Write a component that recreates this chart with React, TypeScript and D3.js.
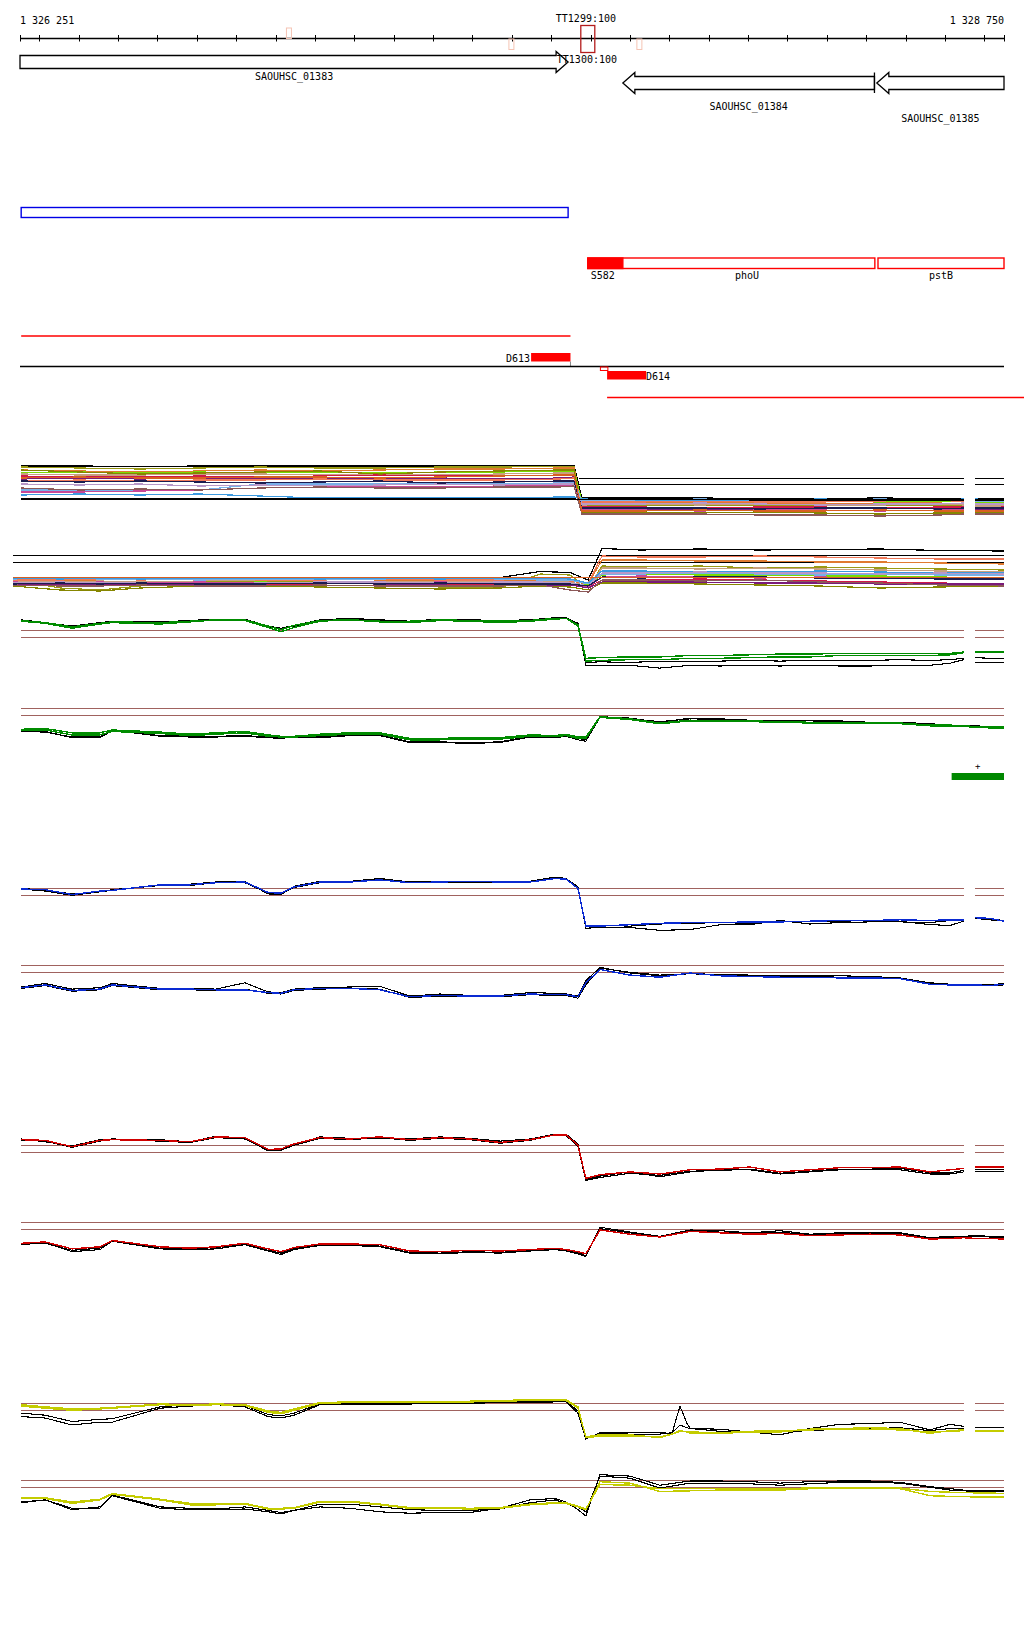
import React from 'react';
import * as d3 from 'd3';

// ---------- genomic window ----------
const START = 1326251;
const END = 1328750;
const GAP: [number, number] = [1328648, 1328676];
const LEFT_LABEL = '1 326 251';
const RIGHT_LABEL = '1 328 750';

// ---------- annotation data ----------
const GENE_NAMES = ['SAOUHSC_01383', 'SAOUHSC_01384', 'SAOUHSC_01385'];
const GENE_FROM = [1326251, 1327782, 1328427];
const GENE_TO = [1327643, 1328421, 1328750];
const GENE_STRAND = [1, -1, -1];

const TERM_MAIN_NAMES = ['TT1299:100', 'TT1300:100'];
const TERM_MAIN_POS = 1327693;
const TERM_MINOR_POS = [1326934, 1327499, 1327824];
const TERM_MINOR_STRAND = [1, -1, -1];

const BLUE_BOX = [1326254, 1327643];
const RNA_NAMES = ['S582', 'phoU', 'pstB'];
const RNA_FROM = [1327693, 1327693, 1328430];
const RNA_TO = [1327782, 1328422, 1328750];
const RNA_FILLED = [true, false, false];

const UPPER_RED_LINE = [1326254, 1327649];
const D613 = [1327549, 1327649];
const D614 = [1327742, 1327841];
const SMALL_SQUARE = [1327725, 1327744];
const LOWER_RED_LINE = [1327742, 1328801];
const GREEN_BLOCK = [1328617, 1328750];

// ---------- multi-condition panels (A: + strand, B: - strand) ----------
const PA = [1326254, 1326403, 1326556, 1326708, 1326861, 1327013, 1327165, 1327318, 1327470, 1327622, 1327658, 1327678, 1327826, 1327978, 1328130, 1328283, 1328435, 1328587, 1328648, 1328676, 1328750];
const PB = [1326233, 1326353, 1326454, 1326556, 1326708, 1326861, 1327013, 1327165, 1327318, 1327470, 1327572, 1327648, 1327694, 1327729, 1327826, 1327978, 1328130, 1328283, 1328435, 1328587, 1328750];
const MULTI_COLORS = ['#000000', '#9a9a14', '#e07a30', '#78dc00', '#c8a080', '#d01848', '#7a1a7a', '#f07858', '#868600', '#78b0e8', '#3c9ae0', '#c84898', '#b898c8', '#8c5858', '#1c1c50', '#d86020', '#000000'];
const A_LINES = [
  [14, 14, 13.9, 14, 14, 14, 14, 14, 14, 14.1, 14.1, 7.6, 7.6, 7.6, 7.5, 7.5, 7.6, 7.5, 7.5, 7.4, 7.4],
  [13.8, 13.6, 13.4, 13.6, 13.8, 13.6, 13.6, 13.8, 13.8, 13.9, 13.8, 6.2, 6.0, 6.2, 6.0, 6.0, 6.2, 6.0, 6.0, 6.2, 6.2],
  [13.2, 13.0, 12.8, 13.0, 13.2, 13.0, 13.2, 13.4, 13.4, 13.6, 13.6, 6.6, 6.6, 6.8, 6.6, 6.4, 6.6, 6.6, 6.4, 6.6, 6.6],
  [12.6, 12.8, 12.6, 12.8, 12.6, 12.8, 12.6, 12.8, 12.8, 13.0, 13.0, 7.0, 7.0, 7.0, 7.2, 7.0, 6.8, 7.0, 7.0, 6.8, 6.8],
  [12.4, 12.2, 12.2, 12.4, 12.4, 12.2, 12.4, 12.2, 12.4, 12.6, 12.6, 6.2, 6.4, 6.2, 6.4, 6.2, 6.2, 6.4, 6.2, 6.0, 6.0],
  [12.0, 11.8, 11.8, 12.0, 11.8, 12.0, 12.2, 12.0, 12.0, 12.2, 12.2, 5.8, 5.8, 5.6, 5.8, 5.8, 5.6, 5.8, 5.8, 5.6, 5.8],
  [11.4, 11.6, 11.4, 11.6, 11.6, 11.4, 11.6, 11.6, 11.4, 11.6, 11.8, 5.4, 5.4, 5.2, 5.4, 5.4, 5.6, 5.4, 5.4, 5.2, 5.2],
  [11.0, 11.2, 11.0, 11.2, 11.2, 11.4, 11.2, 11.2, 11.2, 11.4, 11.6, 6.8, 6.8, 7.0, 6.8, 6.8, 7.0, 7.2, 6.8, 7.0, 7.0],
  [13.2, 12.8, 12.4, 12.6, 12.8, 13.0, 12.4, 12.8, 13.0, 13.2, 13.2, 4.8, 4.8, 4.6, 4.8, 4.6, 4.4, 4.6, 4.6, 4.6, 4.6],
  [9.2, 9.2, 9.0, 9.2, 10.4, 10.4, 10.4, 10.6, 10.4, 10.6, 10.6, 7.2, 7.2, 7.4, 7.2, 7.2, 7.4, 7.2, 7.2, 7.0, 7.0],
  [8.2, 8.4, 8.2, 8.4, 8.0, 7.6, 7.6, 7.6, 7.6, 7.8, 7.8, 7.4, 7.2, 7.2, 7.2, 7.4, 7.2, 7.2, 7.4, 7.4, 7.2],
  [8.8, 8.8, 9.0, 9.2, 9.6, 9.8, 9.8, 9.8, 10.0, 10.0, 10.2, 5.2, 5.2, 5.0, 5.2, 5.2, 5.0, 5.2, 5.2, 5.0, 5.0],
  [10.4, 10.2, 10.4, 10.0, 10.2, 10.0, 10.2, 10.4, 10.2, 10.4, 10.4, 6.4, 6.4, 6.6, 6.4, 6.2, 6.4, 6.4, 6.6, 6.4, 6.4],
  [9.6, 9.2, 9.4, 9.2, 9.6, 9.8, 9.6, 9.6, 9.8, 9.8, 10.0, 4.4, 4.4, 4.4, 4.2, 4.2, 4.0, 4.2, 4.4, 4.4, 4.4],
  [11.0, 10.8, 11.0, 10.8, 10.6, 10.8, 11.0, 10.6, 10.8, 11.0, 11.0, 5.6, 5.6, 5.6, 5.4, 5.6, 5.6, 5.4, 5.6, 5.6, 5.6],
  [11.6, 11.8, 11.6, 11.6, 11.8, 11.8, 11.6, 11.8, 12.0, 12.2, 12.2, 5.0, 5.0, 5.2, 5.0, 5.0, 5.2, 5.0, 5.0, 5.0, 5.0],
  [7.4, 7.4, 7.4, 7.4, 7.4, 7.4, 7.4, 7.4, 7.4, 7.4, 7.4, 7.3, 7.3, 7.3, 7.2, 7.2, 7.2, 7.2, 7.2, 7.2, 7.2],
];
const B_LINES = [
  [8.1, 8.1, 8.1, 8.1, 8.1, 8.1, 8.1, 8.1, 8.1, 8.1, 9.3, 9.1, 7.6, 13.9, 13.6, 13.8, 13.6, 13.7, 13.8, 13.5, 13.4],
  [7.6, 6.0, 5.6, 6.4, 7.4, 7.4, 7.2, 6.8, 6.2, 6.0, 8.8, 8.6, 6.0, 10.4, 10.2, 10.4, 10.0, 10.2, 10.0, 9.8, 9.6],
  [7.8, 7.6, 7.6, 7.8, 7.6, 7.6, 7.8, 7.6, 7.4, 7.6, 7.6, 7.4, 6.8, 11.6, 11.6, 11.4, 11.4, 11.2, 11.2, 11.0, 10.8],
  [7.0, 7.2, 7.0, 7.2, 7.0, 7.2, 7.0, 7.2, 7.0, 7.2, 7.2, 7.0, 6.6, 8.6, 8.8, 8.6, 8.6, 8.4, 8.4, 8.2, 8.0],
  [7.4, 7.2, 7.4, 7.2, 7.4, 7.6, 7.4, 7.2, 7.4, 7.4, 7.2, 7.2, 6.4, 10.0, 10.0, 9.8, 10.0, 9.8, 9.6, 9.4, 9.2],
  [6.8, 6.8, 7.0, 6.8, 7.0, 6.8, 6.8, 7.0, 6.8, 6.8, 7.0, 6.8, 6.2, 7.6, 7.6, 7.8, 7.6, 7.4, 7.2, 7.0, 6.8],
  [6.6, 6.6, 6.8, 6.6, 6.8, 6.6, 6.4, 6.6, 6.6, 6.4, 6.6, 6.6, 6.0, 7.2, 7.2, 7.2, 7.0, 7.0, 6.8, 6.8, 6.8],
  [7.6, 7.6, 7.8, 7.6, 7.8, 7.6, 7.6, 7.8, 7.6, 7.6, 7.8, 7.4, 7.0, 12.4, 12.2, 12.2, 12.4, 12.2, 12.0, 11.8, 11.8],
  [6.4, 5.6, 5.4, 6.0, 6.4, 6.4, 6.2, 6.0, 5.8, 6.0, 6.4, 6.2, 5.6, 7.0, 7.0, 6.8, 6.6, 6.4, 6.0, 6.2, 6.4],
  [7.8, 8.0, 7.8, 7.8, 7.6, 7.8, 7.8, 7.8, 8.0, 7.8, 7.6, 7.6, 6.8, 8.8, 8.8, 9.0, 8.8, 8.6, 8.8, 8.6, 8.6],
  [8.0, 7.8, 8.0, 7.8, 8.0, 8.0, 7.8, 8.0, 7.8, 8.0, 8.0, 7.8, 7.0, 9.4, 9.4, 9.2, 9.2, 9.4, 9.2, 9.0, 9.0],
  [7.2, 7.0, 7.2, 7.0, 7.2, 7.0, 7.2, 7.0, 7.2, 7.0, 7.0, 7.0, 6.2, 8.2, 8.4, 8.2, 8.0, 8.2, 8.0, 7.8, 7.8],
  [7.0, 7.2, 7.0, 7.0, 6.8, 7.0, 7.2, 7.2, 7.0, 7.2, 7.2, 7.0, 6.4, 9.0, 9.0, 9.2, 9.0, 9.0, 8.8, 9.0, 8.8],
  [6.6, 6.4, 6.4, 6.6, 6.4, 6.4, 6.6, 6.4, 6.4, 6.4, 6.6, 5.6, 5.2, 7.6, 7.6, 7.4, 7.6, 7.2, 7.0, 6.6, 6.4],
  [6.8, 7.0, 6.8, 7.0, 6.8, 6.8, 7.0, 6.8, 7.0, 6.8, 6.8, 6.8, 6.4, 8.2, 8.0, 8.2, 8.2, 8.0, 8.0, 7.8, 7.8],
  [8.1, 8.1, 8.1, 8.1, 8.1, 8.1, 8.1, 8.1, 8.1, 8.1, 8.1, 8.1, 8.1, 8.1, 8.1, 8.1, 8.1, 8.1, 8.1, 8.1, 8.1],
];
const A_REF_LEVELS = [11.54, 10.34];
const A_REF_FROM = 1327671;
const B_REF_LEVELS = [12.54, 11.14];

// ---------- per-condition tracks (C green, D blue, E red, F yellow) ----------
const POS = [1326254, 1326315, 1326383, 1326454, 1326485, 1326607, 1326683, 1326749, 1326822, 1326881, 1326914, 1326947, 1327013, 1327089, 1327165, 1327241, 1327318, 1327394, 1327470, 1327546, 1327610, 1327638, 1327668, 1327688, 1327724, 1327800, 1327876, 1327953, 1328029, 1328105, 1328181, 1328257, 1328333, 1328410, 1328486, 1328562, 1328613, 1328648, 1328676, 1328714, 1328750];
const POS_FU = [1326254, 1326315, 1326383, 1326454, 1326485, 1326607, 1326683, 1326749, 1326822, 1326881, 1326914, 1326947, 1327013, 1327089, 1327165, 1327241, 1327318, 1327394, 1327470, 1327546, 1327610, 1327638, 1327668, 1327688, 1327724, 1327800, 1327876, 1327907, 1327927, 1327945, 1327953, 1328029, 1328105, 1328181, 1328257, 1328333, 1328410, 1328486, 1328562, 1328613, 1328648, 1328676, 1328714, 1328750];
const THRESHOLDS = [2, 1];

const CU_G1 = [3.4, 3.1, 2.5, 3.0, 3.2, 3.1, 3.3, 3.5, 3.5, 2.6, 2.1, 2.7, 3.4, 3.5, 3.3, 3.3, 3.5, 3.4, 3.3, 3.4, 3.7, 3.7, 2.8, -2.0, -1.9, -1.8, -1.8, -1.6, -1.6, -1.5, -1.4, -1.4, -1.3, -1.3, -1.3, -1.3, -1.3, -1.1, -1.0, -1.0, -1.1];
const CU_G2 = [3.3, 3.0, 2.3, 2.9, 3.1, 2.9, 3.2, 3.5, 3.4, 2.4, 1.8, 2.4, 3.3, 3.5, 3.2, 3.1, 3.4, 3.3, 3.1, 3.3, 3.6, 3.7, 2.6, -2.4, -2.3, -2.2, -2.2, -2.0, -2.0, -1.9, -1.8, -1.8, -1.6, -1.6, -1.6, -1.6, -1.5, -1.2, -1.1, -1.1, -1.1];
const CU_K1 = [3.5, 3.1, 2.6, 3.1, 3.3, 3.2, 3.4, 3.6, 3.6, 2.6, 2.3, 2.7, 3.5, 3.7, 3.5, 3.3, 3.6, 3.5, 3.4, 3.5, 3.8, 3.8, 3.0, -2.6, -2.5, -2.6, -2.4, -2.4, -2.4, -2.3, -2.4, -2.3, -2.3, -2.3, -2.2, -2.3, -2.2, -2.0, -1.9, -2.0, -2.0];
const CU_K2 = [3.3, 3.0, 2.5, 3.0, 3.2, 3.1, 3.3, 3.5, 3.5, 2.5, 2.2, 2.6, 3.4, 3.6, 3.4, 3.2, 3.5, 3.4, 3.3, 3.4, 3.8, 3.7, 2.9, -3.0, -3.0, -3.0, -3.4, -3.0, -3.1, -3.0, -3.1, -3.0, -3.1, -3.1, -3.0, -3.0, -2.7, -2.2, -2.6, -2.6, -2.6];
const CL_G1 = [-1.0, -0.9, -1.5, -1.5, -1.1, -1.4, -1.7, -1.5, -1.3, -1.8, -2.0, -2.0, -1.7, -1.5, -1.5, -2.3, -2.3, -2.2, -2.2, -1.8, -1.9, -1.7, -2.1, -2.1, 0.8, 0.5, -0.1, 0.3, 0.2, 0.2, 0.1, 0.0, 0.0, -0.1, -0.1, -0.4, -0.4, -0.5, -0.6, -0.7, -0.6];
const CL_G2 = [-1.2, -1.1, -1.8, -1.8, -1.3, -1.6, -1.9, -1.7, -1.5, -2.0, -2.1, -2.1, -1.9, -1.7, -1.7, -2.5, -2.5, -2.4, -2.4, -2.0, -2.0, -1.9, -2.3, -2.3, 0.7, 0.4, -0.2, 0.2, 0.1, 0.1, 0.0, -0.1, -0.1, -0.2, -0.2, -0.5, -0.5, -0.6, -0.7, -0.8, -0.8];
const CL_K1 = [-1.3, -1.4, -2.1, -2.1, -1.1, -2.0, -2.1, -2.1, -2.0, -2.2, -2.3, -2.1, -2.1, -1.8, -1.8, -2.8, -2.8, -2.9, -2.8, -2.0, -2.1, -1.9, -2.3, -2.5, 0.8, 0.6, 0.0, 0.6, 0.5, 0.3, 0.3, 0.2, 0.2, 0.0, 0.0, -0.2, -0.4, -0.4, -0.5, -0.6, -0.6];
const CL_K2 = [-1.2, -1.3, -2.2, -2.2, -1.2, -1.9, -2.0, -2.0, -1.9, -2.1, -2.2, -2.0, -2.2, -1.9, -1.9, -2.9, -2.9, -3.0, -2.9, -2.1, -2.2, -2.0, -2.5, -2.7, 0.7, 0.5, 0.1, 0.5, 0.4, 0.3, 0.2, 0.2, 0.1, 0.0, -0.1, -0.3, -0.4, -0.5, -0.5, -0.6, -0.7];

const DU_B = [1.9, 1.8, 1.1, 1.6, 1.7, 2.5, 2.5, 2.8, 2.9, 1.4, 1.3, 2.2, 2.9, 2.9, 3.2, 2.8, 2.9, 3.0, 2.9, 2.9, 3.4, 3.3, 2.0, -3.4, -3.4, -3.2, -3.0, -2.9, -2.9, -2.8, -2.8, -2.7, -2.6, -2.6, -2.5, -2.6, -2.5, -2.5, -2.2, -2.3, -2.7];
const DU_K1 = [2.0, 1.7, 1.2, 1.5, 1.7, 2.5, 2.6, 2.9, 3.0, 1.2, 1.1, 2.3, 3.0, 3.0, 3.4, 2.9, 3.0, 3.0, 3.0, 3.0, 3.6, 3.4, 2.2, -3.7, -3.6, -3.6, -4.0, -3.9, -3.2, -3.2, -2.6, -3.1, -2.9, -2.8, -2.7, -3.2, -3.3, -2.7, -2.2, -2.4, -2.6];
const DU_K2 = [1.9, 1.6, 1.0, 1.5, 1.8, 2.4, 2.4, 2.8, 2.8, 1.3, 1.2, 2.1, 2.8, 2.9, 3.3, 2.9, 2.8, 2.9, 2.8, 2.9, 3.5, 3.3, 2.1, -3.5, -3.3, -3.4, -3.1, -3.0, -2.9, -3.0, -2.8, -2.7, -2.7, -2.6, -2.8, -2.9, -2.6, -2.6, -2.3, -2.5, -2.7];
const DL_B = [-1.2, -0.8, -1.6, -1.4, -0.8, -1.4, -1.4, -1.5, -1.5, -1.9, -2.0, -1.5, -1.3, -1.3, -1.5, -2.5, -2.3, -2.4, -2.4, -2.1, -2.2, -2.2, -2.5, -0.5, 1.4, 0.6, 0.3, 0.9, 0.5, 0.4, 0.3, 0.3, 0.2, 0.2, 0.1, -0.7, -0.8, -0.8, -0.8, -0.9, -0.7];
const DL_K1 = [-1.1, -0.6, -1.4, -1.2, -0.6, -1.3, -1.3, -1.4, -0.5, -1.8, -1.9, -1.4, -1.2, -1.1, -1.0, -2.4, -2.1, -2.3, -2.3, -1.9, -2.0, -2.1, -2.4, -0.2, 1.7, 0.9, 0.5, 0.8, 0.7, 0.6, 0.5, 0.5, 0.5, 0.4, 0.2, -0.5, -0.7, -0.7, -0.7, -0.8, -0.6];
const DL_K2 = [-1.3, -0.9, -1.7, -1.5, -0.9, -1.5, -1.5, -1.6, -1.4, -2.0, -2.1, -1.6, -1.4, -1.3, -1.4, -2.6, -2.4, -2.5, -2.5, -2.2, -2.3, -2.3, -2.7, -0.8, 1.6, 1.0, 0.6, 0.8, 0.6, 0.5, 0.4, 0.4, 0.3, 0.3, 0.2, -0.6, -0.8, -0.8, -0.8, -0.9, -0.8];

const EU_R = [2.8, 2.7, 1.8, 2.7, 2.8, 2.7, 2.5, 3.2, 3.1, 1.4, 1.5, 2.2, 3.1, 2.9, 3.2, 2.8, 3.1, 2.9, 2.4, 2.8, 3.5, 3.5, 2.0, -2.7, -2.2, -1.8, -2.1, -1.5, -1.4, -1.1, -1.8, -1.5, -1.2, -1.2, -1.1, -1.8, -1.5, -1.3, -1.1, -1.1, -1.1];
const EU_K1 = [2.9, 2.5, 1.9, 2.8, 2.9, 2.8, 2.5, 3.3, 3.0, 1.2, 1.4, 2.1, 3.2, 3.0, 3.0, 2.9, 3.2, 3.0, 2.6, 2.9, 3.6, 3.6, 2.2, -2.9, -2.4, -1.8, -2.5, -1.8, -1.5, -1.5, -2.1, -1.8, -1.5, -1.5, -1.5, -2.1, -2.1, -1.8, -1.7, -1.8, -1.8];
const EU_K2 = [2.7, 2.6, 1.7, 2.6, 2.8, 2.6, 2.4, 3.1, 2.9, 1.3, 1.3, 2.0, 3.0, 2.8, 3.1, 2.7, 3.0, 2.8, 2.3, 2.7, 3.5, 3.4, 1.8, -3.0, -2.6, -2.0, -2.3, -1.7, -1.6, -1.4, -2.0, -1.7, -1.4, -1.4, -1.3, -1.9, -1.9, -1.6, -1.5, -1.5, -1.5];
const EL_R = [-1.0, -0.8, -1.8, -1.5, -0.6, -1.5, -1.7, -1.5, -1.0, -1.8, -2.2, -1.6, -1.1, -1.1, -1.2, -2.1, -2.2, -2.0, -2.1, -1.9, -1.7, -1.9, -2.2, -2.5, 0.9, 0.3, -0.1, 0.7, 0.5, 0.3, 0.4, 0.1, 0.2, 0.3, 0.2, -0.4, -0.3, -0.2, -0.3, -0.3, -0.4];
const EL_K1 = [-1.2, -0.9, -2.2, -1.9, -0.7, -1.8, -1.9, -1.8, -1.2, -2.1, -2.6, -1.9, -1.3, -1.3, -1.5, -2.4, -2.5, -2.3, -2.4, -2.1, -1.9, -2.1, -2.5, -2.9, 1.3, 0.6, 0.0, 0.9, 0.8, 0.5, 0.8, 0.3, 0.5, 0.5, 0.5, -0.2, 0.0, 0.0, 0.1, 0.0, 0.0];
const EL_K2 = [-1.1, -1.0, -2.0, -1.7, -0.6, -1.7, -1.8, -1.6, -1.1, -2.0, -2.4, -1.8, -1.2, -1.2, -1.4, -2.3, -2.4, -2.2, -2.3, -2.0, -1.8, -2.0, -2.3, -2.8, 1.1, 0.5, -0.1, 0.8, 0.6, 0.4, 0.6, 0.2, 0.4, 0.4, 0.4, -0.3, -0.1, -0.1, 0.0, -0.1, -0.1];

const FU_Y1 = [1.6, 1.3, 1.0, 1.2, 1.3, 1.8, 1.7, 1.8, 1.7, 0.7, 0.5, 1.0, 2.0, 2.1, 2.2, 2.2, 2.2, 2.2, 2.3, 2.4, 2.4, 2.4, 1.3, -2.8, -2.5, -2.5, -2.9, -2.4, -1.9, -2.1, -2.3, -2.3, -2.1, -2.1, -1.7, -1.6, -1.5, -1.6, -2.3, -1.9, -1.8, -2.0, -2.0, -2.0];
const FU_Y2 = [1.8, 1.5, 1.2, 1.3, 1.4, 1.9, 1.8, 1.9, 1.8, 0.9, 0.7, 1.2, 2.1, 2.2, 2.3, 2.3, 2.3, 2.3, 2.4, 2.5, 2.5, 2.5, 1.5, -2.9, -2.7, -2.7, -2.8, -2.4, -2.0, -2.0, -2.1, -2.2, -2.0, -1.9, -1.8, -1.7, -1.7, -1.8, -2.1, -2.0, -1.9, -1.9, -1.9, -1.9];
const FU_K1 = [0.1, -0.1, -1.1, -0.7, -0.7, 1.3, 1.6, 1.8, 1.5, 0.1, -0.1, 0.3, 1.8, 1.8, 1.9, 1.9, 2.0, 2.0, 2.1, 2.1, 2.2, 2.2, 0.6, -3.1, -2.2, -2.2, -2.2, -2.3, 1.6, -0.9, -1.6, -1.7, -2.1, -2.5, -1.6, -1.0, -0.9, -0.7, -1.8, -1.0, -1.3, -1.5, -1.5, -1.5];
const FU_K2 = [0.6, 0.3, -0.6, -0.3, -0.2, 1.5, 1.8, 1.9, 1.7, 0.4, 0.2, 0.6, 1.9, 1.9, 2.0, 2.0, 2.1, 2.1, 2.2, 2.2, 2.3, 2.3, 0.9, -3.0, -2.3, -2.4, -2.4, -2.2, -1.1, -1.5, -1.6, -2.0, -2.2, -2.1, -1.9, -1.7, -1.6, -1.5, -1.9, -1.6, -1.6, -1.5, -1.5, -1.5];
const FL_Y1 = [-0.6, -0.6, -1.3, -0.8, 0.0, -0.8, -1.5, -1.5, -1.4, -2.1, -2.1, -2.0, -1.1, -1.1, -1.5, -2.0, -2.0, -2.1, -2.0, -1.5, -1.3, -1.3, -1.8, -2.2, 1.8, 1.6, 0.4, 0.5, 0.6, 0.6, 0.6, 0.8, 0.8, 0.8, 0.8, -0.2, -0.3, -0.3, -0.4, -0.4, -0.4];
const FL_Y2 = [-0.5, -0.5, -1.1, -0.7, 0.1, -0.7, -1.3, -1.4, -1.3, -2.0, -2.0, -1.9, -1.0, -1.0, -1.4, -1.9, -1.9, -2.0, -1.9, -1.4, -1.2, -1.2, -1.7, -2.1, 1.4, 1.3, 0.8, 0.8, 0.8, 0.8, 0.8, 0.9, 0.9, 0.9, 0.9, 0.4, 0.3, 0.3, 0.2, 0.2, 0.1];
const FL_K1 = [-1.1, -0.8, -2.0, -2.0, -0.2, -2.0, -2.2, -2.2, -2.1, -2.5, -2.8, -2.3, -1.8, -2.0, -2.5, -2.7, -2.6, -2.6, -2.0, -0.8, -0.6, -1.1, -2.2, -3.1, 2.8, 2.6, 1.3, 1.9, 1.9, 1.8, 1.6, 1.8, 1.9, 1.9, 1.7, 1.1, 0.8, 0.6, 0.6, 0.5, 0.6];
const FL_K2 = [-1.2, -0.8, -2.2, -1.8, -0.1, -1.8, -2.0, -2.1, -1.8, -2.3, -2.6, -2.3, -1.4, -1.4, -1.8, -2.2, -2.3, -2.3, -2.1, -1.2, -0.8, -1.3, -1.8, -2.5, 2.6, 2.3, 0.9, 1.6, 1.6, 1.5, 1.3, 1.5, 1.7, 1.7, 1.6, 1.0, 0.6, 0.5, 0.4, 0.4, 0.4];

const GREEN = '#008c00';
const BLUE = '#0a2ad2';
const RED = '#d00000';
const YELLOW = '#c4cc00';
const BROWN = '#a0625e';

const x = d3.scaleLinear().domain([START, END]).range([20, 1004]);

function paths(pos: number[], vals: number[], y: (v: number) => number, gap?: [number, number] | null): string[] {
  const idx = pos.map((_, i) => i);
  const groups = gap ? [idx.filter(i => pos[i] <= gap[0]), idx.filter(i => pos[i] >= gap[1])] : [idx];
  const gen = d3.line<number>().x(i => x(pos[i])).y(i => y(vals[i]));
  return groups.filter(g => g.length > 1).map(g => gen(g) as string);
}

function arrow(from: number, to: number, yc: number, strand: number): string {
  const x0 = x(from), x1 = x(to);
  const bh = 6.5, hh = 10.5, hl = 12;
  if (strand > 0) {
    const xb = x1 - hl;
    return `M${x0},${yc - bh}L${xb},${yc - bh}L${xb},${yc - hh}L${x1},${yc}L${xb},${yc + hh}L${xb},${yc + bh}L${x0},${yc + bh}Z`;
  }
  const xb = x0 + hl;
  return `M${x1},${yc - bh}L${xb},${yc - bh}L${xb},${yc - hh}L${x0},${yc}L${xb},${yc + hh}L${xb},${yc + bh}L${x1},${yc + bh}Z`;
}

type Sub = { top: number; pos: number[]; lines: number[][]; colors: string[]; gap: boolean };

const SUBTRACKS: Sub[] = [
  { top: 630.3, pos: POS, lines: [CU_K2, CU_K1, CU_G2, CU_G1], colors: ['#000', '#000', GREEN, GREEN], gap: true },
  { top: 708.3, pos: POS, lines: [CL_K2, CL_K1, CL_G2, CL_G1], colors: ['#000', '#000', GREEN, GREEN], gap: false },
  { top: 888.3, pos: POS, lines: [DU_K2, DU_K1, DU_B], colors: ['#000', '#000', BLUE], gap: true },
  { top: 965.3, pos: POS, lines: [DL_K2, DL_K1, DL_B], colors: ['#000', '#000', BLUE], gap: false },
  { top: 1145.3, pos: POS, lines: [EU_K2, EU_K1, EU_R], colors: ['#000', '#000', RED], gap: true },
  { top: 1222.3, pos: POS, lines: [EL_K2, EL_K1, EL_R], colors: ['#000', '#000', RED], gap: false },
  { top: 1403.3, pos: POS_FU, lines: [FU_K2, FU_K1, FU_Y2, FU_Y1], colors: ['#000', '#000', YELLOW, YELLOW], gap: true },
  { top: 1480.3, pos: POS, lines: [FL_K2, FL_K1, FL_Y2, FL_Y1], colors: ['#000', '#000', YELLOW, YELLOW], gap: false },
];

export default function App() {
  const font = { fontFamily: '"DejaVu Sans Mono", monospace', fontSize: 10 } as const;
  const ticks = [START, ...d3.range(1326300, 1328701, 100), END];
  const yA = d3.scaleLinear().domain([14, 4]).range([466, 516]);
  const yB = d3.scaleLinear().domain([14, 4]).range([548, 598]);

  return (
    <div style={{ position: 'absolute', left: 0, top: 0 }}>
      <svg width={1024} height={1640} style={{ display: 'block', background: '#fff' }}>
        {/* coordinate axis */}
        <text x={20} y={24} {...font}>{LEFT_LABEL}</text>
        <text x={1004} y={24} textAnchor="end" {...font}>{RIGHT_LABEL}</text>
        <line x1={x(START)} x2={x(END)} y1={38.5} y2={38.5} stroke="#000" strokeWidth={1.3} />
        {ticks.map(t => (
          <line key={t} x1={Math.round(x(t)) + 0.5} x2={Math.round(x(t)) + 0.5} y1={35} y2={41.5} stroke="#000" strokeWidth={1} />
        ))}
        {TERM_MINOR_POS.map((p, i) => (
          <rect key={p} x={x(p) - 2.5} y={TERM_MINOR_STRAND[i] > 0 ? 28 : 39} width={5} height={10.5} fill="none" stroke="#f5c4b4" strokeWidth={1} />
        ))}
        <rect x={x(TERM_MAIN_POS) - 7} y={25.5} width={14} height={27} fill="none" stroke="#b41c1c" strokeWidth={1.3} />
        <text x={x(TERM_MAIN_POS) - 32} y={22} {...font}>{TERM_MAIN_NAMES[0]}</text>

        {/* genes */}
        {GENE_NAMES.map((g, i) => {
          const yc = i === 0 ? 62 : 83;
          return (
            <path key={g} d={arrow(GENE_FROM[i], GENE_TO[i], yc, GENE_STRAND[i])} fill="#fff" stroke="#000" strokeWidth={1.3} />
          );
        })}
        <line x1={x(GENE_TO[1])} x2={x(GENE_TO[1])} y1={72.5} y2={93} stroke="#000" strokeWidth={1.3} />
        <text x={x(TERM_MAIN_POS) - 31} y={62.5} {...font} fill="#000">{TERM_MAIN_NAMES[1]}</text>
        {GENE_NAMES.map((g, i) => {
          const ly = [80, 110, 122][i];
          const cx = (x(GENE_FROM[i]) + x(GENE_TO[i])) / 2;
          return <text key={g} x={cx} y={ly} textAnchor="middle" {...font}>{g}</text>;
        })}

        {/* blue region */}
        <rect x={x(BLUE_BOX[0])} y={207.5} width={x(BLUE_BOX[1]) - x(BLUE_BOX[0])} height={10} fill="none" stroke="#0000e6" strokeWidth={1.4} />

        {/* red RNA features */}
        {RNA_NAMES.map((n, i) => (
          <rect key={n + 'o'} x={x(RNA_FROM[i])} y={258} width={x(RNA_TO[i]) - x(RNA_FROM[i])} height={10.5} fill="none" stroke="#ff0000" strokeWidth={1.4} />
        ))}
        {RNA_NAMES.map((n, i) => RNA_FILLED[i] ? (
          <rect key={n + 'f'} x={x(RNA_FROM[i])} y={258} width={x(RNA_TO[i]) - x(RNA_FROM[i])} height={10.5} fill="#ff0000" />
        ) : null)}
        <text x={x(RNA_FROM[0]) + 3} y={279} {...font}>{RNA_NAMES[0]}</text>
        <text x={747} y={279} textAnchor="middle" {...font}>{RNA_NAMES[1]}</text>
        <text x={(x(RNA_FROM[2]) + x(RNA_TO[2])) / 2} y={279} textAnchor="middle" {...font}>{RNA_NAMES[2]}</text>

        {/* segment tracks */}
        <line x1={x(UPPER_RED_LINE[0])} x2={x(UPPER_RED_LINE[1])} y1={336} y2={336} stroke="#ff0000" strokeWidth={1.4} />
        <rect x={x(D613[0])} y={353} width={x(D613[1]) - x(D613[0])} height={8.5} fill="#ff0000" />
        <text x={x(D613[0]) - 1} y={362} textAnchor="end" {...font}>D613</text>
        <line x1={x(D613[1])} x2={x(D613[1])} y1={361.5} y2={366} stroke="#888" strokeWidth={1} />
        <line x1={x(START)} x2={x(END)} y1={366.5} y2={366.5} stroke="#000" strokeWidth={1.4} />
        <rect x={x(SMALL_SQUARE[0])} y={367} width={x(SMALL_SQUARE[1]) - x(SMALL_SQUARE[0])} height={3.5} fill="none" stroke="#ff0000" strokeWidth={1} />
        <rect x={x(D614[0])} y={371} width={x(D614[1]) - x(D614[0])} height={8.5} fill="#ff0000" />
        <text x={x(D614[1])} y={379.5} {...font}>D614</text>
        <line x1={x(LOWER_RED_LINE[0])} x2={x(LOWER_RED_LINE[1])} y1={397.5} y2={397.5} stroke="#ff0000" strokeWidth={1.4} />

        {/* multi-condition panels */}
        <g shapeRendering="crispEdges" fill="none">
          {A_REF_LEVELS.map(v => paths([A_REF_FROM, GAP[0], GAP[1], END], [v, v, v, v], yA, GAP).map((d, j) => (
            <path key={'ar' + v + j} d={d} stroke="#000" strokeWidth={1.5} />
          )))}
          {A_LINES.map((vals, i) => paths(PA, vals, yA, GAP).map((d, j) => (
            <path key={'a' + i + j} d={d} stroke={MULTI_COLORS[i]} strokeWidth={1.2} />
          )))}
          {B_REF_LEVELS.map(v => paths([PB[0], END], [v, v], yB, null).map((d, j) => (
            <path key={'br' + v + j} d={d} stroke="#000" strokeWidth={1.5} />
          )))}
          {B_LINES.map((vals, i) => paths(PB, vals, yB, null).map((d, j) => (
            <path key={'b' + i + j} d={d} stroke={MULTI_COLORS[i]} strokeWidth={1.2} />
          )))}
        </g>

        {/* condition tracks */}
        <g shapeRendering="crispEdges" fill="none">
          {SUBTRACKS.map((s, k) => {
            const y = d3.scaleLinear().domain([2, 1]).range([s.top, s.top + 7]);
            const thrPos = s.gap ? [POS[0], GAP[0], GAP[1], END] : [POS[0], END];
            return (
              <g key={'s' + k}>
                {THRESHOLDS.map(t => paths(thrPos, thrPos.map(() => t), y, s.gap ? GAP : null).map((d, j) => (
                  <path key={'t' + t + j} d={d} stroke={BROWN} strokeWidth={1.3} />
                )))}
                {s.lines.map((vals, i) => paths(s.pos, vals, y, s.gap ? GAP : null).map((d, j) => (
                  <path key={'l' + i + j} d={d} stroke={s.colors[i]} strokeWidth={s.colors[i] === '#000' ? 1.1 : 1.4} />
                )))}
              </g>
            );
          })}
        </g>

        {/* small green block */}
        <text x={(x(GREEN_BLOCK[0]) + x(GREEN_BLOCK[1])) / 2} y={769} textAnchor="middle" {...font} fontSize={9} fill="#000">+</text>
        <rect x={x(GREEN_BLOCK[0])} y={773} width={x(GREEN_BLOCK[1]) - x(GREEN_BLOCK[0])} height={7} fill="#008800" />
      </svg>
    </div>
  );
}
